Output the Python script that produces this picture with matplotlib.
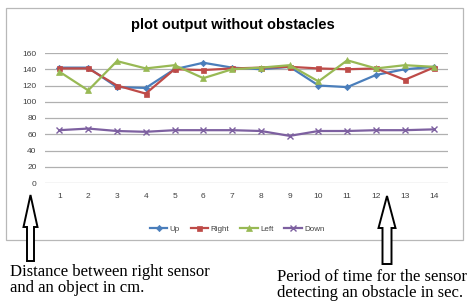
import matplotlib
matplotlib.use("Agg")
import matplotlib.pyplot as plt
from matplotlib.patches import FancyArrow, Rectangle
from matplotlib.transforms import IdentityTransform

# readings per second, 1..14
seconds = list(range(1, 15))
up = [142, 142, 118, 117, 140, 148, 142, 140, 143, 120, 118, 133, 140, 143]
right = [141, 141, 120, 110, 140, 139, 141, 142, 143, 141, 140, 141, 127, 142]
left = [137, 114, 150, 141, 145, 129, 140, 142, 145, 125, 151, 141, 145, 143]
down = [65, 67, 64, 63, 65, 65, 65, 64, 58, 64, 64, 65, 65, 66]
y_ticks = [0, 20, 40, 60, 80, 100, 120, 140, 160]

W, H = 474, 307
fig = plt.figure(figsize=(W / 100, H / 100), dpi=100)
fig.patch.set_facecolor("white")

# chart frame (excel style)
fig.patches.append(Rectangle((6 / W, 1 - 240 / H), 457 / W, 232 / H,
                             transform=fig.transFigure, fill=False,
                             edgecolor="#b8b8b8", linewidth=0.9))

ax = fig.add_axes([45 / W, 1 - 183 / H, 403 / W, 130 / H])
series = [
    ("Up", up, "#4A7EBB", "D", 3.2),
    ("Right", right, "#BE4B48", "s", 3.6),
    ("Left", left, "#98B954", "^", 4.0),
    ("Down", down, "#7D60A0", "x", 4.0),
]
for name, vals, col, mk, ms in series:
    ax.plot(seconds, vals, color=col, marker=mk, markersize=ms, linewidth=1.6,
            markeredgewidth=1.0 if mk == "x" else 0.5, label=name, zorder=3)

ax.set_xlim(0.5, 14.5)
ax.set_ylim(0, 160)
ax.set_yticks(y_ticks)
ax.set_xticks(seconds)
ax.grid(axis="y", color="#b0b0b0", linewidth=0.9)
for s in ax.spines.values():
    s.set_visible(False)
ax.tick_params(length=0, labelsize=6, colors="#404040", pad=7)
ax.tick_params(axis="y", pad=6)
for lab in ax.get_xticklabels() + ax.get_yticklabels():
    lab.set_fontfamily("Liberation Sans")

leg = fig.legend(loc="center", bbox_to_anchor=(237 / W, 1 - 229 / H), ncol=4,
                 frameon=False, handlelength=2.2, handletextpad=0.3,
                 columnspacing=1.3, prop={"family": "Liberation Sans", "size": 5.8})
for t in leg.get_texts():
    t.set_color("#404040")

fig.text(233 / W, 1 - 25 / H, "plot output without obstacles", ha="center",
         va="center", fontsize=10.5, fontweight="bold", family="Liberation Sans")

# hollow up arrows in pixel coordinates
def up_arrow(x, y_tip, y_bot, shaft, head):
    hl = 32
    arr = FancyArrow(x, H - y_bot, 0, y_bot - y_tip, width=shaft, head_width=head,
                     head_length=hl, length_includes_head=True,
                     transform=IdentityTransform(), facecolor="white",
                     edgecolor="black", linewidth=1.4)
    fig.patches.append(arr)

up_arrow(30.5, 195, 261, 7, 14)
up_arrow(387, 196, 264, 9, 17)

serif = dict(ha="left", va="center", fontsize=12, family="Liberation Serif")
fig.text(10 / W, 1 - 272 / H, "Distance between right sensor", **serif)
fig.text(10 / W, 1 - 288 / H, "and an object in cm.", **serif)
fig.text(277 / W, 1 - 277 / H, "Period of time for the sensor", **serif)
fig.text(277 / W, 1 - 293 / H, "detecting an obstacle in sec.", **serif)

fig.savefig("out.png", dpi=100)
